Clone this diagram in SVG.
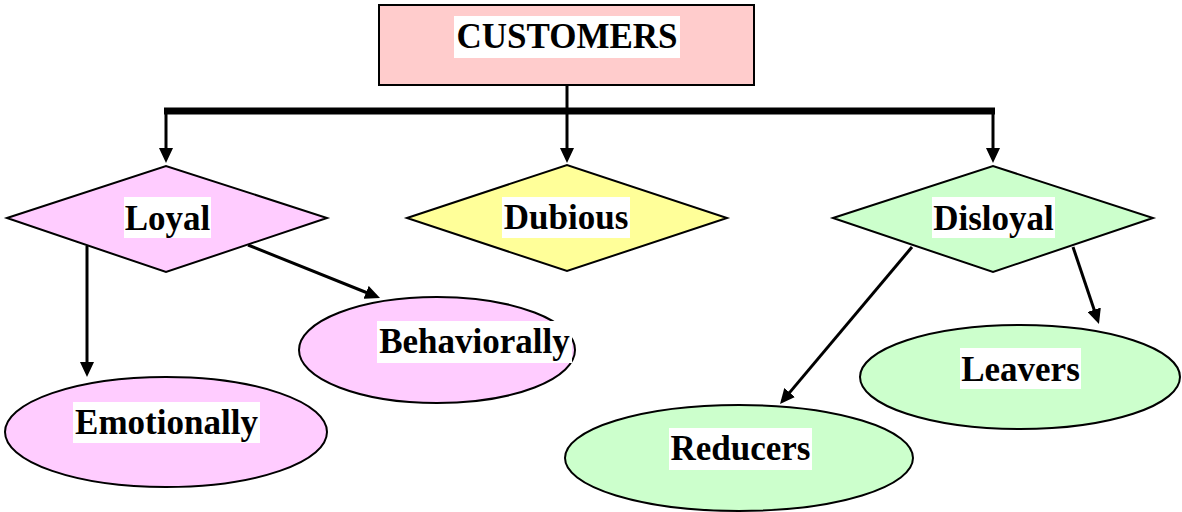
<svg xmlns="http://www.w3.org/2000/svg" width="1182" height="512" viewBox="0 0 1182 512">
<style>
.shape{stroke:#000;stroke-width:2}
.pink{fill:#ffccff}
.green{fill:#ccffcc}
.label{font-family:"Liberation Serif","Times New Roman",serif;font-weight:bold;font-size:35px;fill:#000;text-anchor:middle}
.bg{fill:#fff}
.conn{stroke:#000;stroke-width:3;fill:none}
</style>
<defs>
<marker id="arr" markerUnits="userSpaceOnUse" markerWidth="16" markerHeight="14" refX="11" refY="7" orient="auto">
<path d="M0,0 L15,7 L0,14 z" fill="#000"/>
</marker>
</defs>
<rect width="1182" height="512" fill="#fff"/>
<g id="connectors">
<line x1="567" y1="85" x2="567" y2="111" class="conn" stroke-width="4"/>
<line x1="164" y1="111" x2="995" y2="111" stroke="#000" stroke-width="7"/>
<line x1="166" y1="111" x2="166" y2="159" class="conn" marker-end="url(#arr)"/>
<line x1="567" y1="111" x2="567" y2="159" class="conn" marker-end="url(#arr)"/>
<line x1="993" y1="111" x2="993" y2="159" class="conn" marker-end="url(#arr)"/>
<line x1="87" y1="246" x2="87" y2="373" class="conn" marker-end="url(#arr)"/>
<line x1="248" y1="245" x2="376.3" y2="296.5" class="conn" marker-end="url(#arr)"/>
<line x1="912" y1="247" x2="782.6" y2="400.9" class="conn" marker-end="url(#arr)"/>
<line x1="1073" y1="247" x2="1097.7" y2="320.2" class="conn" marker-end="url(#arr)"/>
</g>
<g id="customers">
<rect x="379" y="5" width="375" height="80" fill="#ffcccc" class="shape"/>
<rect x="454" y="16" width="226" height="42" class="bg"/>
<text x="567" y="48" class="label">CUSTOMERS</text>
</g>
<g id="loyal">
<polygon points="7,218 166,166 327,218 166,272" class="shape pink"/>
<rect x="124" y="197" width="87" height="41" class="bg"/>
<text x="167.5" y="230" class="label">Loyal</text>
</g>
<g id="dubious">
<polygon points="407,218 567,165 727,218 567,271" class="shape" fill="#ffff99"/>
<rect x="502" y="197" width="128" height="41" class="bg"/>
<text x="566" y="229" class="label">Dubious</text>
</g>
<g id="disloyal">
<polygon points="833,218 993,166 1153,218 993,272" class="shape green"/>
<rect x="932" y="197" width="123" height="41" class="bg"/>
<text x="993.5" y="230" class="label">Disloyal</text>
</g>
<g id="emotionally">
<ellipse cx="166" cy="432" rx="161" ry="55" class="shape pink"/>
<rect x="73" y="402" width="187" height="41" class="bg"/>
<text x="166.5" y="434" class="label">Emotionally</text>
</g>
<g id="behaviorally">
<ellipse cx="437" cy="350" rx="138" ry="53" class="shape pink"/>
<rect x="377" y="321" width="195" height="42" class="bg"/>
<text x="474.5" y="353" class="label">Behaviorally</text>
</g>
<g id="reducers">
<ellipse cx="739" cy="458" rx="174" ry="53" class="shape green"/>
<rect x="669" y="428" width="143" height="42" class="bg"/>
<text x="740.5" y="460" class="label">Reducers</text>
</g>
<g id="leavers">
<ellipse cx="1020" cy="377" rx="160" ry="52" class="shape green"/>
<rect x="960" y="348" width="121" height="41" class="bg"/>
<text x="1020.5" y="381" class="label">Leavers</text>
</g>
</svg>
